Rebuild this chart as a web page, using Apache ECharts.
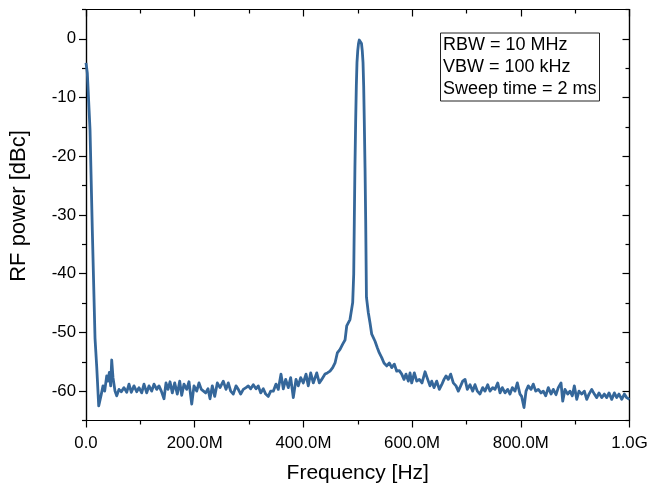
<!DOCTYPE html>
<html>
<head>
<meta charset="utf-8">
<script src="https://cdn.jsdelivr.net/npm/echarts@6/dist/echarts.min.js"></script>
<style>
html, body { margin: 0; padding: 0; background: #fff; }
#chart { width: 649px; height: 485px; }
</style>
</head>
<body>
<div id="chart"></div>
<script>
// frequency in MHz, power in dBc
var freqMHz = [
	0, 2.4, 7.4, 11.6, 16.6, 19.7, 23.4, 28.2, 31.3, 34.4, 38.1, 40.5, 42.9, 45.4, 47.3, 49.7,
	53.4, 56.5, 60.7, 65, 69.9, 74.9, 79.1, 83.4, 88.3, 93.3, 97.5, 102.5, 106.7, 111.7, 115.9,
	120.9, 125.1, 130.1, 134.3, 138.6, 143.5, 147.2, 150.9, 154.6, 158.8, 163.2, 168, 172.4,
	176.1, 180.3, 185.3, 189.5, 194.5, 198.7, 203.7, 207.9, 212.2, 215.8, 220.2, 224.5, 228.2,
	232.4, 236.8, 241.6, 246.6, 252.6, 257.6, 261.8, 266.2, 271, 276, 280.2, 284.6, 289.4,
	294.4, 298.6, 303, 307.8, 312.8, 317, 321.4, 326.2, 330.6, 335.4, 339.8, 344.6, 349.6,
	353.8, 358.8, 363, 367.4, 372.2, 376.6, 381.4, 386.4, 390.6, 395, 399.8, 404.8, 409,
	413.4, 418.2, 424.5, 429.3, 433.7, 439.8, 444, 449, 453.9, 458.2, 462.4, 467.4, 472.3,
	476.6, 479.7, 485.7, 490.7, 492.6, 493.7, 494.8, 496.2, 497.4, 498.6, 500, 501.4, 502.8,
	504.1, 505.5, 506.9, 508.3, 509.7, 510.9, 512, 513.4, 514.6, 516, 519.4, 522.6, 525.7,
	531.8, 536, 539.7, 544.1, 548.3, 553.3, 558.1, 562.5, 567.3, 571.7, 576.5, 580.9, 585.1,
	588.8, 593, 596.2, 599.3, 604.1, 608.5, 613.3, 618.2, 623.8, 628.7, 632.9, 636.1, 640.3,
	645.3, 650.1, 654.5, 658.7, 662.4, 666.6, 671, 675.8, 680.8, 685, 689.4, 693.1, 697.4,
	701.6, 706.6, 711.5, 715.7, 720, 724.9, 729.9, 734.1, 739.1, 743.3, 748.3, 752.5, 757.5,
	761.8, 766, 771, 775.9, 780.1, 784.4, 789.3, 793.6, 798.5, 801.6, 805.9, 809.6, 813.8,
	818.8, 823, 827.4, 832.2, 837.2, 841.4, 845.8, 850.6, 855.6, 859.8, 864.8, 869, 874,
	877.1, 881.3, 886.3, 890.5, 894.8, 898.5, 902.9, 907.1, 912.1, 916.9, 921.3, 925.5,
	930.5, 935.3, 939.7, 943.9, 948.9, 953.7, 958.1, 962.3, 967.3, 972.1, 976.5, 980.7,
	985.7, 990.5, 994.8, 1000
];
var powerDbc = [
	-4.1, -5.8, -15.5, -32.5, -51, -55.8, -62.5, -60.5, -59.1, -60, -57.4, -58.3, -56.8, -59.1, -54.7, -57.7,
	-60, -60.8, -59.7, -60.1, -59.4, -60.2, -58.8, -60.2, -59.1, -60.1, -59.4, -60.3, -58.8, -60.3, -59.1,
	-60, -58.8, -59.7, -59.1, -60, -61.3, -58.6, -59.7, -58.4, -60.3, -58.6, -60.5, -58.3,
	-60.7, -58.8, -59.7, -58.4, -62.2, -59.1, -60, -58.6, -59.7, -59.4, -60.3, -59.6, -61.3,
	-59.1, -60.9, -58.6, -59.4, -58.3, -59.7, -58.6, -60, -60.5, -59.1, -59.7, -60.5, -59.7,
	-59.4, -59.1, -59.6, -58.9, -59.6, -59.1, -60.3, -59.6, -60.5, -60.9, -60, -60, -58.8,
	-59.7, -57.1, -59.6, -58, -59.4, -57.7, -61.1, -58, -59.1, -57.7, -58.6, -57.1, -59.1,
	-56.9, -58.6, -56.9, -58.6, -58, -57.1, -56.9, -56.6, -56, -55.2, -53.5, -52.9, -52,
	-51.3, -48.9, -47.8, -44.9, -40, -30.8, -22, -13.8, -8, -4, -2, -0.8, -0.2,
	0, -0.2, -0.8, -2, -4, -8, -13.8, -22, -30.8, -44, -46.6, -48.4, -50.3,
	-51.5, -52.6, -53.5, -54.3, -55.2, -55.7, -55.2, -56, -55.4, -56.6, -56.5, -57.1, -58,
	-57.1, -58.3, -56.9, -58.6, -56.9, -58.3, -58, -58.6, -56.7, -58, -59.1, -58.3, -59.4,
	-58.3, -59.7, -58.9, -58, -57.4, -58, -57.1, -58.6, -59.1, -60, -59.1, -58.3, -58,
	-59.7, -58.9, -60, -58.9, -60, -60.5, -59.4, -60, -58.9, -60, -59.4, -59.7, -58.6,
	-60.3, -59.4, -60.3, -59.7, -60.5, -59.4, -60, -58.6, -60.5, -60.9, -62.8, -60, -59.1,
	-59.7, -58.8, -60, -59.7, -60.3, -60, -60.8, -59.4, -60.5, -59.7, -60.6, -59.4, -58.6,
	-61.7, -59.7, -60.5, -60, -60.8, -59.1, -61.4, -60, -60.5, -60, -61.4, -60.5,
	-59.7, -60.5, -61.1, -60.3, -61.1, -60.5, -61.1, -60.3, -61.4, -60.3, -61.1, -60.5,
	-61.4, -60.5, -61.1, -61.4
];
var yMajorTicks = [-60, -50, -40, -30, -20, -10, 0];
var yMinorTicks = [-65, -55, -45, -35, -25, -15, -5, 5];
var infoLines = ['RBW = 10 MHz', 'VBW = 100 kHz', 'Sweep time = 2 ms'];

var FONT = '"Liberation Sans", Arial, sans-serif';

function xLabel(v) {
	if (v === 0) return '0.0';
	if (v >= 1000) return (v / 1000).toFixed(1) + 'G';
	return v.toFixed(1) + 'M';
}

var chart = echarts.init(document.getElementById('chart'), null, { renderer: 'canvas' });

var points = [];
for (var i = 0; i < freqMHz.length; i++) {
	points.push([freqMHz[i], powerDbc[i]]);
}

var lineStyleAxis = { color: '#000', width: 1.2 };

function yAxisDef(pos, inside, ticks, len, showLabels) {
	return {
		type: 'value', position: pos, min: -65, max: 5,
		axisLine: { show: true, onZero: false, lineStyle: lineStyleAxis },
		axisTick: { show: true, inside: inside, length: len, customValues: ticks, lineStyle: lineStyleAxis },
		axisLabel: showLabels ? { show: true, customValues: ticks, color: '#000', fontSize: 16.8, fontFamily: FONT, margin: 10 } : { show: false },
		splitLine: { show: false }
	};
}

var option = {
	animation: false,
	backgroundColor: '#fff',
	title: {
		text: infoLines.join('\n'),
		left: 440.5, top: 32.5,
		borderColor: '#222', borderWidth: 1,
		padding: [2, 3, 2, 2.5],
		textStyle: { fontSize: 18, fontWeight: 'normal', color: '#000', fontFamily: FONT, lineHeight: 21.7 }
	},
	grid: { left: 86, right: 19.5, top: 9.5, bottom: 64.5, containLabel: false, outerBoundsMode: 'none' },
	xAxis: [
		{
			type: 'value', position: 'bottom', min: 0, max: 1000, interval: 200,
			name: 'Frequency [Hz]', nameLocation: 'middle', nameGap: 42,
			nameTextStyle: { fontSize: 21, color: '#000', fontFamily: FONT },
			axisLine: { show: true, onZero: false, lineStyle: lineStyleAxis },
			axisTick: { show: true, inside: false, length: 7, lineStyle: lineStyleAxis },
			minorTick: { show: true, splitNumber: 2, length: 4, lineStyle: lineStyleAxis },
			axisLabel: { color: '#000', fontSize: 16.8, fontFamily: FONT, margin: 14, formatter: xLabel },
			splitLine: { show: false }
		},
		{
			type: 'value', position: 'top', min: 0, max: 1000, interval: 200,
			axisLine: { show: true, onZero: false, lineStyle: lineStyleAxis },
			axisTick: { show: true, inside: true, length: 7, lineStyle: lineStyleAxis },
			minorTick: { show: true, splitNumber: 2, length: 4, lineStyle: lineStyleAxis },
			axisLabel: { show: false },
			splitLine: { show: false }
		}
	],
	yAxis: [
		Object.assign(yAxisDef('left', false, yMajorTicks, 7, true), {
			name: 'RF power [dBc]', nameLocation: 'middle', nameGap: 56,
			nameTextStyle: { fontSize: 22, color: '#000', fontFamily: FONT, padding: [0, 0, 0, 18] }
		}),
		yAxisDef('left', false, yMinorTicks, 4, false),
		yAxisDef('right', true, yMajorTicks, 7, false),
		yAxisDef('right', true, yMinorTicks, 4, false)
	],
	series: [
		{
			type: 'line',
			xAxisIndex: 0,
			yAxisIndex: 0,
			data: points,
			showSymbol: false,
			smooth: false,
			lineStyle: { color: '#35679a', width: 2.8, join: 'round' }
		}
	]
};

chart.setOption(option);
</script>
</body>
</html>
